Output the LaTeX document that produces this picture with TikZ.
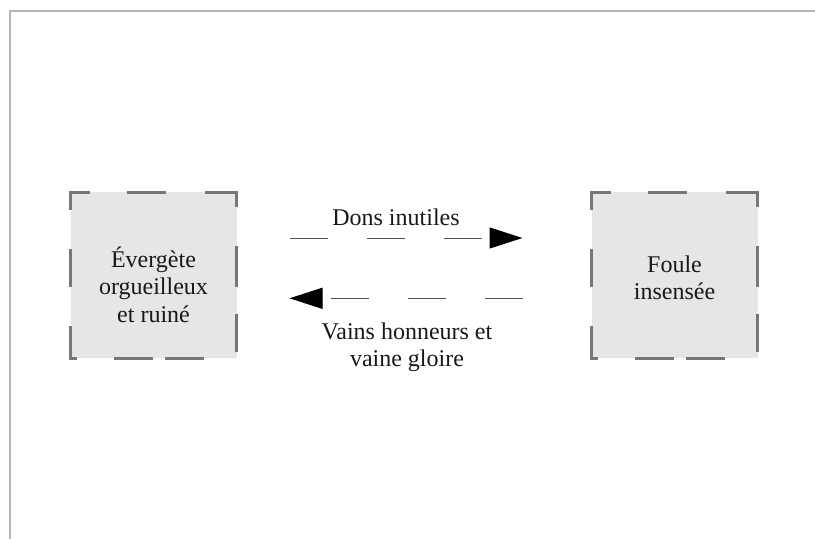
\documentclass[tikz,border=0pt]{standalone}
\usepackage{fontspec}
\setmainfont{Liberation Serif}
\usetikzlibrary{arrows.meta,calc}
\definecolor{framegray}{HTML}{B4B4B4}
\definecolor{boxgray}{HTML}{777777}
\definecolor{boxfill}{HTML}{E6E6E6}
\definecolor{linegray}{HTML}{505050}
\begin{document}
\begin{tikzpicture}[x=0.75pt,y=-0.75pt,
 box/.style={fill=boxfill, minimum width=124.5pt, minimum height=124.5pt, inner sep=0pt, outer sep=0pt},
 bedge/.style={draw=boxgray, line width=1.9pt, line cap=rect},
 topedge/.style={bedge, dash pattern=on 14pt off 29.5pt on 27.5pt off 31pt on 30pt off 30pt},
 rightedge/.style={bedge, dash pattern=on 10.25pt off 31pt on 29pt off 22pt on 26.75pt off 30pt},
 bottomedge/.style={bedge, dash pattern=on 4.25pt off 29.5pt on 27.5pt off 10.75pt on 27.5pt off 30pt},
 leftedge/.style={bedge, dash pattern=on 12.5pt off 31pt on 26.75pt off 31pt on 30pt off 30pt},
 lbl/.style={align=center, font=\fontsize{18}{20.6}\selectfont, inner sep=0pt, text=black!90},
 flow/.style={draw=linegray, line width=0.75pt, dash pattern=on 28.5pt off 29.25pt, -{Triangle[length=24.75pt,width=15.75pt,color=black]}},
 frame/.style={draw=framegray, line width=1.1pt}]
\useasboundingbox (0,0) rectangle (815,539);
\draw[frame] (10,539) -- (10,11) -- (815,11);
% boxes
\node[box] (L) at (153.5,275.3) {};
\node[box] (R) at (674.5,275.3) {};
\foreach \b in {L,R}{
  \draw[topedge] (\b.north west) -- (\b.north east);
  \draw[rightedge] (\b.north east) -- (\b.south east);
  \draw[bottomedge] (\b.south west) -- (\b.south east);
  \draw[leftedge] (\b.north west) -- (\b.south west);
}
% texts
\node[lbl] (Lt) at (153.5,284.5) {Évergète\\orgueilleux\\et ruiné};
\node[lbl] (Rt) at (674.5,278) {Foule\\insensée};
\node[lbl] (gifts) at (396,217) {Dons inutiles};
\node[lbl] (honours) at (407,347) {Vains honneurs et\\vaine gloire};
% arrows
\draw[flow, shorten <=39.75pt, shorten >=51.75pt] ($(L.east)+(0,-37.3)$) -- ($(R.west)+(0,-37.3)$);
\draw[flow, shorten <=51.75pt, shorten >=39.75pt] ($(R.west)+(0,23)$) -- ($(L.east)+(0,23)$);
\end{tikzpicture}
\end{document}
